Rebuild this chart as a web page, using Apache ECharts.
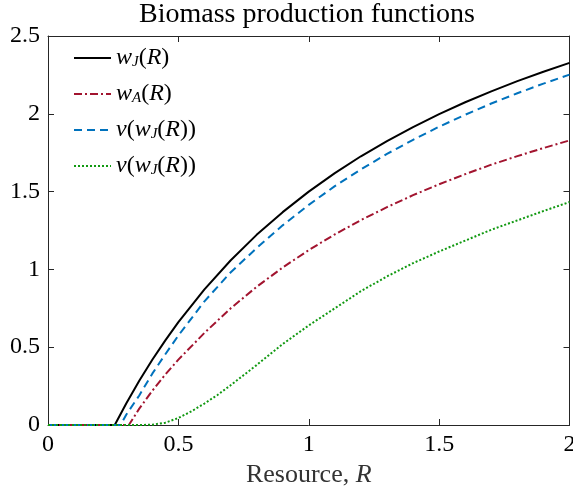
<!DOCTYPE html>
<html>
<head>
<meta charset="utf-8">
<script src="https://cdn.jsdelivr.net/npm/echarts@6/dist/echarts.min.js"></script>
<style>html,body{margin:0;padding:0;background:#fff;}#c{width:573px;height:487px;}</style>
</head>
<body>
<div id="c"></div>
<script>
const titleText = 'Biomass production functions';
const xTicks = [0, 0.5, 1, 1.5, 2];
const yTicks = [0, 0.5, 1, 1.5, 2, 2.5];

// w_J(R)
const rJ = [0, 0.256, 0.3, 0.35, 0.4, 0.45, 0.5, 0.6, 0.7, 0.8, 0.9, 1.0, 1.1, 1.2, 1.3, 1.4, 1.5, 1.6, 1.7, 1.8, 1.9, 2.0];
const wJ = [0, 0, 0.138, 0.284, 0.419, 0.544, 0.661, 0.872, 1.057, 1.222, 1.368, 1.50, 1.619, 1.727, 1.825, 1.915, 1.998, 2.074, 2.144, 2.21, 2.27, 2.327];
// w_A(R)
const rA = [0, 0.31, 0.35, 0.4, 0.45, 0.5, 0.6, 0.7, 0.8, 0.9, 1.0, 1.1, 1.2, 1.3, 1.4, 1.5, 1.6, 1.7, 1.8, 1.9, 2.0];
const wA = [0, 0, 0.105, 0.22, 0.325, 0.42, 0.592, 0.749, 0.888, 1.012, 1.124, 1.225, 1.317, 1.40, 1.477, 1.547, 1.612, 1.673, 1.728, 1.78, 1.829];
// v(w_J(R)) blue
const rV = [0, 0.278, 0.3, 0.35, 0.4, 0.45, 0.5, 0.6, 0.7, 0.8, 0.9, 1.0, 1.1, 1.2, 1.3, 1.4, 1.5, 1.6, 1.7, 1.8, 1.9, 2.0];
const vJ = [0, 0, 0.066, 0.19, 0.33, 0.455, 0.575, 0.795, 0.98, 1.137, 1.283, 1.415, 1.535, 1.643, 1.742, 1.833, 1.917, 1.994, 2.066, 2.132, 2.194, 2.252];
// v(w_J(R)) green
const rG = [0, 0.35, 0.4, 0.45, 0.5, 0.55, 0.6, 0.65, 0.7, 0.75, 0.8, 0.9, 1.0, 1.1, 1.2, 1.3, 1.4, 1.5, 1.6, 1.7, 1.8, 1.9, 2.0];
const vG = [0, 0, 0.002, 0.015, 0.045, 0.088, 0.138, 0.193, 0.255, 0.32, 0.385, 0.52, 0.64, 0.75, 0.86, 0.955, 1.04, 1.115, 1.185, 1.255, 1.315, 1.375, 1.433];

const seriesNames = ['wJ', 'wA', 'vJ', 'vG'];
const legendLabels = {
  wJ: '{i|w}{s|J}{n|(}{i|R}{n|)}',
  wA: '{i|w}{s|A}{n|(}{i|R}{n|)}',
  vJ: '{i|v}{n|(}{i|w}{s|J}{n|(}{i|R}{n|))}',
  vG: '{i|v}{n|(}{i|w}{s|J}{n|(}{i|R}{n|))}'
};

const pairs = (xs, ys) => xs.map((x, i) => [x, ys[i]]);
const serif = 'Liberation Serif';
const axisColor = '#262626';

const chart = echarts.init(document.getElementById('c'), null, {renderer: 'canvas'});

const lineSeries = (name, xs, ys, color, type) => ({
  name: name, type: 'line', data: pairs(xs, ys), showSymbol: false, symbol: 'none',
  smooth: false,
  lineStyle: {color: color, width: 2, type: type},
  itemStyle: {color: color}
});

const baseAxis = {
  min: 0, interval: 0.5, splitLine: {show: false},
  axisLine: {show: true, onZero: false, lineStyle: {color: axisColor, width: 1}},
  axisTick: {show: true, inside: true, length: 6, lineStyle: {color: axisColor}}
};

chart.setOption({
  animation: false,
  backgroundColor: '#fff',
  grid: {left: 48, top: 36, width: 521.5, height: 389, containLabel: false, outerBoundsMode: 'none'},
  graphic: [{
    type: 'text', x: 307, y: 1,
    style: {text: titleText, font: '28px "Liberation Serif"', fill: '#000', textAlign: 'center', textVerticalAlign: 'top'}
  }],
  legend: {
    orient: 'vertical', left: 68, top: 41, itemWidth: 37, itemHeight: 14, itemGap: 12,
    data: seriesNames,
    formatter: name => legendLabels[name],
    itemStyle: {color: 'rgba(0,0,0,0)', borderWidth: 0, opacity: 0},
    textStyle: {
      rich: {
        i: {fontFamily: serif, fontStyle: 'italic', fontSize: 24, lineHeight: 24, verticalAlign: 'middle', color: '#000'},
        n: {fontFamily: serif, fontSize: 24, lineHeight: 24, verticalAlign: 'middle', color: '#000'},
        s: {fontFamily: serif, fontStyle: 'italic', fontSize: 15, lineHeight: 11, verticalAlign: 'bottom', color: '#000'}
      }
    }
  },
  xAxis: [
    Object.assign({}, baseAxis, {
      type: 'value', max: 2, position: 'bottom',
      axisLabel: {fontFamily: serif, fontSize: 24, color: '#000', margin: 8},
      name: '{n|Resource, }{i|R}', nameLocation: 'middle', nameGap: 26,
      nameTextStyle: {rich: {
        n: {fontFamily: serif, fontSize: 26, color: '#333'},
        i: {fontFamily: serif, fontStyle: 'italic', fontSize: 26, color: '#333'}
      }}
    }),
    Object.assign({}, baseAxis, {type: 'value', max: 2, position: 'top', axisLabel: {show: false}})
  ],
  yAxis: [
    Object.assign({}, baseAxis, {
      type: 'value', max: 2.5, position: 'left',
      axisLabel: {fontFamily: serif, fontSize: 24, color: '#000', margin: 8}
    }),
    Object.assign({}, baseAxis, {type: 'value', max: 2.5, position: 'right', axisLabel: {show: false}})
  ],
  series: [
    lineSeries('wJ', rJ, wJ, '#000000', 'solid'),
    lineSeries('wA', rA, wA, '#A2142F', [8, 3, 2, 3]),
    lineSeries('vJ', rV, vJ, '#0072BD', [8, 5]),
    lineSeries('vG', rG, vG, '#119911', [2, 2])
  ]
});
</script>
</body>
</html>
